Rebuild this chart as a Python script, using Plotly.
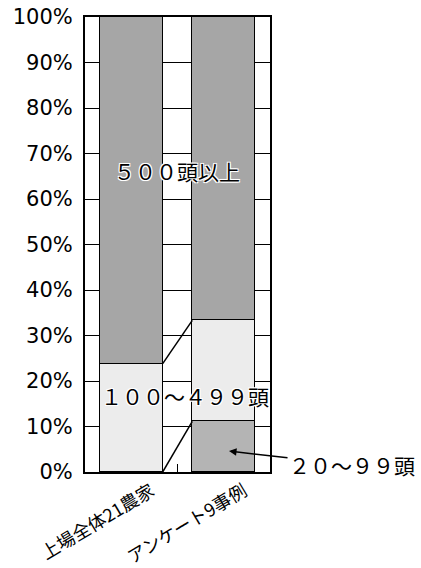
import plotly.graph_objects as go

categories = ["上場全体21農家", "アンケート9事例"]
series_names = ["２０～９９頭", "１００～４９９頭", "５００頭以上"]
counts_20_99 = [0, 1]
counts_100_499 = [5, 2]
counts_500_plus = [16, 6]
y_ticks = [0, 10, 20, 30, 40, 50, 60, 70, 80, 90, 100]
y_tick_labels = [f"{v}%" for v in y_ticks]

series = [counts_20_99, counts_100_499, counts_500_plus]
totals = [sum(s[i] for s in series) for i in range(len(categories))]
pct = [[100 * s[i] / totals[i] for i in range(len(categories))] for s in series]

colors = ["#b4b4b4", "#ececec", "#a6a6a6"]
x = list(range(len(categories)))
W = 0.68

fig = go.Figure()
for name, vals, col in zip(series_names, pct, colors):
    fig.add_trace(go.Bar(x=x, y=vals, name=name, width=W,
                         marker=dict(color=col, line=dict(color="black", width=1.5)),
                         showlegend=False))

# series connector lines
cum = [0, 0]
for vals in pct[:-1]:
    cum = [cum[i] + vals[i] for i in range(2)]
    fig.add_trace(go.Scatter(x=[x[0] + W / 2, x[1] - W / 2], y=cum, mode="lines",
                             line=dict(color="black", width=1.5), showlegend=False,
                             hoverinfo="skip"))

# invisible trace on overlay axis for category boundary tick
fig.add_trace(go.Scatter(x=[0.5], y=[0], xaxis="x2", mode="markers",
                         marker=dict(opacity=0), showlegend=False, hoverinfo="skip"))

halo = "-1px -1px 0 #fff, 1px -1px 0 #fff, -1px 1px 0 #fff, 1px 1px 0 #fff, 0 0 2px #fff"
lab_font = dict(family="Noto Sans CJK JP", size=21, color="black", shadow=halo)

fig.add_annotation(x=0.49, y=66.2, text=series_names[2], showarrow=False, font=lab_font)
fig.add_annotation(x=0.576, y=16.7, text=series_names[1], showarrow=False, font=lab_font)
fig.add_annotation(x=1.057, y=4.6, text=series_names[0], showarrow=True,
                   ax=123, ay=14, arrowhead=2, arrowsize=1, arrowwidth=1.5,
                   arrowcolor="black", font=dict(family="Noto Sans CJK JP", size=21, color="black"))

fig.update_layout(
    width=421, height=568,
    margin=dict(l=85, r=151, t=17, b=96, autoexpand=False),
    paper_bgcolor="white", plot_bgcolor="white",
    barmode="stack", bargap=0,
    xaxis2=dict(overlaying="x", range=[-0.5, 1.5], side="bottom", tickmode="array",
                tickvals=[0.5], ticktext=[""], ticks="inside", ticklen=8,
                tickcolor="black", tickwidth=1, showgrid=False, zeroline=False,
                showline=False, automargin=False),
    xaxis=dict(range=[-0.5, 1.5], tickmode="array", tickvals=x, ticktext=categories,
               tickangle=-31, tickfont=dict(family="Noto Sans CJK JP", size=18, color="black"),
               showgrid=False, zeroline=False, showline=True, linecolor="black", linewidth=2,
               mirror=True, ticks="", ticklabelshift=20, automargin=False),
    yaxis=dict(range=[0, 100], tickmode="array", tickvals=y_ticks, ticktext=y_tick_labels,
               tickfont=dict(family="DejaVu Sans", size=21, color="black"),
               showgrid=True, gridcolor="#000000", gridwidth=1.2, zeroline=False,
               showline=True, linecolor="black", linewidth=2, mirror=True,
               ticks="outside", ticklen=6, tickcolor="rgba(0,0,0,0)", automargin=False),
)

fig.write_html("out.html", config={"displayModeBar": False},
               post_script="document.body.style.margin='0';")
